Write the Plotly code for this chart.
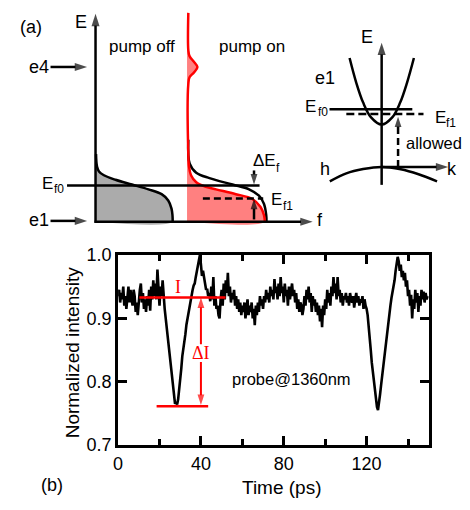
import numpy as np
import plotly.graph_objects as go

# ---------------- data: panel (b) ----------------
time_step_ps = 0.5
intensity = [
    0.935, 0.945, 0.925, 0.94, 0.93, 0.95, 0.92, 0.935, 0.915, 0.94,
    0.95, 0.925, 0.945, 0.93, 0.92, 0.945, 0.935, 0.91, 0.925, 0.905,
    0.93, 0.945, 0.955, 0.925, 0.94, 0.915, 0.93, 0.91, 0.935, 0.92,
    0.945, 0.912, 0.95, 0.93, 0.96, 0.935, 0.955, 0.93, 0.977, 0.94,
    0.92, 0.95, 0.935, 0.96, 0.93, 0.915, 0.90, 0.885, 0.87, 0.855,
    0.84, 0.825, 0.806, 0.79, 0.775, 0.765, 0.768, 0.764, 0.772, 0.785,
    0.806, 0.82, 0.84, 0.85, 0.86, 0.875, 0.89, 0.90, 0.912, 0.915,
    0.925, 0.935, 0.945, 0.952, 0.955, 0.965, 0.975, 0.985, 0.99, 1.0,
    0.985, 0.967, 0.975, 0.96, 0.955, 0.945, 0.947, 0.935, 0.94, 0.927,
    0.95, 0.93, 0.965, 0.92, 0.935, 0.915, 0.92, 0.905, 0.90, 0.93,
    0.945, 0.92, 0.955, 0.93, 0.96, 0.94, 0.972, 0.935, 0.95, 0.925,
    0.94, 0.93, 0.945, 0.92, 0.935, 0.915, 0.93, 0.91, 0.925, 0.905,
    0.92, 0.91, 0.925, 0.90, 0.915, 0.93, 0.905, 0.92, 0.91, 0.925,
    0.90, 0.915, 0.889, 0.92, 0.905, 0.925, 0.91, 0.935, 0.92, 0.93,
    0.915, 0.935, 0.925, 0.945, 0.93, 0.94, 0.925, 0.95, 0.935, 0.945,
    0.93, 0.962, 0.94, 0.95, 0.93, 0.955, 0.935, 0.965, 0.94, 0.95,
    0.925, 0.955, 0.935, 0.945, 0.92, 0.95, 0.93, 0.94, 0.955, 0.935,
    0.945, 0.925, 0.94, 0.915, 0.93, 0.91, 0.925, 0.92, 0.905, 0.915,
    0.935, 0.92, 0.945, 0.93, 0.95, 0.925, 0.94, 0.91, 0.935, 0.92,
    0.93, 0.91, 0.925, 0.905, 0.92, 0.895, 0.915, 0.886, 0.92, 0.905,
    0.93, 0.915, 0.945, 0.925, 0.94, 0.92, 0.95, 0.935, 0.965, 0.94,
    0.955, 0.93, 0.965, 0.935, 0.945, 0.925, 0.94, 0.92, 0.935, 0.93,
    0.94, 0.925, 0.935, 0.92, 0.94, 0.93, 0.925, 0.935, 0.917, 0.93,
    0.94, 0.925, 0.935, 0.92, 0.93, 0.925, 0.935, 0.915, 0.93, 0.92,
    0.915, 0.905, 0.89, 0.87, 0.85, 0.83, 0.815, 0.80, 0.785, 0.77,
    0.76, 0.755, 0.765, 0.78, 0.795, 0.81, 0.825, 0.84, 0.85, 0.86,
    0.875, 0.89, 0.905, 0.92, 0.932, 0.94, 0.95, 0.96, 0.975, 0.985,
    0.997, 0.99, 0.975, 0.985, 0.965, 0.975, 0.96, 0.972, 0.95, 0.96,
    0.935, 0.945, 0.92, 0.937, 0.90, 0.93, 0.915, 0.945, 0.925, 0.94,
    0.91, 0.935, 0.92, 0.945, 0.93, 0.942, 0.925, 0.94, 0.93, 0.935,
]
time_ps = np.arange(len(intensity)) * time_step_ps

x_ticks = [0, 40, 80, 120]
x_minor_ticks = [20, 60, 100, 140]
y_ticks = [0.7, 0.8, 0.9, 1.0]

# red markers in panel (b)
i_level = 0.933
i_line_x = [10.3, 51.9]
min_level = 0.761
min_line_x = [18.6, 43.5]
delta_x = 40

# ---------------- schematic panel (a) (drawing units = px) ----------------
off_x = [92, 93, 95, 100, 111.7, 128.3, 145, 158.3, 165, 168.3, 169.3, 169.5]
off_y = [150, 163, 168, 172, 176.7, 181.7, 186.7, 191.7, 198.3, 206.7, 214, 220.5]

on_red_x = [185.3, 185.3, 186.5, 191, 194.5, 191, 186.5, 185.3, 185.3, 186, 188,
            193.3, 203, 213.3, 233.3, 250, 258.3, 261.7, 262.7]
on_red_y = [3, 42, 48, 54, 59.3, 65, 70, 77, 150, 163, 172,
            179.3, 184, 186.7, 191.7, 196.7, 205, 213.3, 220.5]

on_blk_x = [185.3, 186.7, 193.3, 206.7, 230, 246.7, 256.7, 261.7, 264, 264.3]
on_blk_y = [135, 160, 169.3, 175, 181.7, 186.7, 193.3, 201.7, 213.3, 220.5]

band_e1_x = [348.3, 355, 362, 370, 380.7, 391.4, 399.4, 406.4, 413.3]
band_e1_y = [50, 75.5, 96.4, 111.8, 119.3, 111.8, 96.4, 75.5, 50]
band_h_x = [328.3, 345, 362, 380.7, 400, 418, 436.7]
band_h_y = [178.3, 170, 165.5, 163.3, 165.8, 171, 178.3]

BLK = "black"
RED = "#ff0000"
SANS = "Liberation Sans, Arial, sans-serif"
SERIF = "Liberation Serif, Times New Roman, serif"

fig = go.Figure()

# --- panel (b) trace
fig.add_trace(go.Scatter(x=time_ps, y=intensity, mode="lines",
                         line=dict(color=BLK, width=2.6), xaxis="x", yaxis="y",
                         showlegend=False, hoverinfo="skip"))
fig.add_trace(go.Scatter(x=i_line_x, y=[i_level, i_level], mode="lines",
                         line=dict(color=RED, width=2.5), showlegend=False))
fig.add_trace(go.Scatter(x=min_line_x, y=[min_level, min_level], mode="lines",
                         line=dict(color=RED, width=2.5), showlegend=False))

# --- panel (a) schematic on overlay axes x2/y2
def s(x, y, ax=("x2", "y2"), **kw):
    fig.add_trace(go.Scatter(x=x, y=y, xaxis=ax[0], yaxis=ax[1], showlegend=False,
                             hoverinfo="skip", **kw))

# gray fill (pump off)
s([off_x[0]] + off_x + [off_x[0]], [off_y[0]] + off_y + [220.5], mode="lines",
  fill="toself", fillcolor="#ababab", line=dict(width=0, shape="spline"))
# red fill (pump on)
s([184] + on_red_x + [184], [3] + on_red_y + [220.5], mode="lines",
  fill="toself", fillcolor="#ff8080", line=dict(width=0, shape="spline"))
# black curve under pump on
s(on_blk_x, on_blk_y, mode="lines", line=dict(color=BLK, width=2.5, shape="spline"))
# red curve
s(on_red_x, on_red_y, mode="lines", line=dict(color=RED, width=2.5, shape="spline"))
# pump off curve
s(off_x, off_y, mode="lines", line=dict(color=BLK, width=2.5, shape="spline"))
# Ef0 line (left)
s([62.7, 257.3], [182.7, 182.7], mode="lines", line=dict(color=BLK, width=2.5))
# Ef1 dashed (left)
s([200, 261], [196.2, 196.2], mode="lines", line=dict(color=BLK, width=2.5, dash="7px,4px"))

# right band diagram
s(band_e1_x, band_e1_y, mode="lines", line=dict(color=BLK, width=2.5, shape="spline"))
s(band_h_x, band_h_y, mode="lines", line=dict(color=BLK, width=2.5, shape="spline"))
s([328, 411.7], [103.3, 103.3], mode="lines", line=dict(color=BLK, width=2.5))
s([345, 423], [108.3, 108.3], mode="lines", line=dict(color=BLK, width=2.5, dash="8px,4px"))
s([397.3, 397.3], [163.3, 120], mode="lines", line=dict(color=BLK, width=2.5, dash="7px,4px"))


def arrow(x0, y0, x1, y1, color=BLK, width=2.5, size=13, ax=("x2", "y2")):
    s([x0, x1], [y0, y1], ax=ax, mode="lines+markers",
      line=dict(color=color, width=width),
      marker=dict(symbol="arrow", size=[0, size], angleref="previous", color=color,
                  line=dict(width=0)))


annotations = []

def label(x, y, text, size=18, xanchor="center", yanchor="middle", color=BLK,
          family=SANS, ref=("x2", "y2"), angle=0):
    annotations.append(dict(x=x, y=y, xref=ref[0], yref=ref[1], text=text,
                            showarrow=False, xanchor=xanchor, yanchor=yanchor,
                            textangle=angle,
                            font=dict(size=size, color=color, family=family)))

# left axes
arrow(91.5, 221.5, 91.5, 4)
arrow(90.5, 220.5, 311, 220.5)
arrow(46, 59.3, 83, 59.3)
arrow(46, 219.5, 83, 219.5)
arrow(251.7, 167, 251.7, 181.5, size=11)
arrow(251.7, 218, 251.7, 196.5, size=11)
# right axes
arrow(380.7, 182, 380.7, 34)
arrow(380.7, 163.3, 448, 163.3)
arrow(397.3, 122, 397.3, 111, size=11)

label(26, 18, "(a)")
label(77, 13, "E")
label(138, 38, "pump off", size=17)
label(250, 38, "pump on", size=17)
label(34, 59, "e4")
label(34, 219, "e1")
# E_f0 (left): base letter + subscript as separate texts
label(50.5, 181, "E", size=17, xanchor="right")
label(62, 186.5, "f0", size=12, xanchor="right")
# ΔE_f
label(249, 156.5, "ΔE", size=17, xanchor="left")
label(271.5, 164, "f", size=12, xanchor="left")
# E_f1 (left)
label(266.5, 197.5, "E", size=17, xanchor="left")
label(279, 204, "f1", size=12, xanchor="left")
label(318, 219, "f")
label(366, 28, "E")
label(323, 71, "e1")
# E_f0 (right)
label(316.5, 100.5, "E", size=17, xanchor="right")
label(328.5, 106, "f0", size=12, xanchor="right")
# E_f1 (right)
label(432.5, 111.5, "E", size=17, xanchor="left")
label(443.5, 118, "f1", size=12, xanchor="left")
label(433.5, 138, "allowed", size=16.5)
label(323, 165, "h")
label(452, 165, "k")

# panel (b) labels
label(48, 494, "(b)")
label(280, 497, "Time (ps)", size=19)
label(68, 356, "Normalized intensity", size=19, angle=-90)
label(29, 0.9495, "I", size=18, color=RED, family=SERIF, ref=("x", "y"))
label(40, 0.846, "ΔI", size=18, color=RED, family=SERIF, ref=("x", "y"))
label(83.8, 0.8045, "probe@1360nm", size=16.5, ref=("x", "y"))
arrow(delta_x, 0.859, delta_x, i_level, color=RED, width=2, size=11, ax=("x", "y"))
arrow(delta_x, 0.831, delta_x, min_level + 0.002, color=RED, width=2, size=11, ax=("x", "y"))

W, H = 470, 510
fig.update_layout(
    width=W, height=H, margin=dict(l=0, r=0, t=0, b=0),
    paper_bgcolor="white", plot_bgcolor="rgba(0,0,0,0)",
    showlegend=False, annotations=annotations,
    font=dict(family=SANS, size=18, color=BLK),
    xaxis=dict(domain=[114.3 / W, 428.3 / W], range=[0, 150], anchor="y",
               tickvals=x_ticks, ticks="inside", ticklen=9, tickwidth=2.5,
               tickcolor=BLK, showline=True, linewidth=3, linecolor=BLK,
               mirror="ticks", showgrid=False, zeroline=False,
               tickfont=dict(size=18, family=SANS, color=BLK),
               minor=dict(tickvals=x_minor_ticks, ticks="inside", ticklen=6,
                          tickwidth=2.5, tickcolor=BLK, showgrid=False)),
    yaxis=dict(domain=[(H - 452.7) / H, (H - 255) / H], range=[0.7, 1.0], anchor="x",
               tickvals=y_ticks, tickformat=".1f", ticks="inside", ticklen=9,
               tickwidth=2.5, tickcolor=BLK, showline=True, linewidth=3,
               linecolor=BLK, mirror="ticks", showgrid=False, zeroline=False,
               tickfont=dict(size=18, family=SANS, color=BLK)),
    xaxis2=dict(domain=[0, 1], range=[0, W], visible=False, anchor="y2",
                showgrid=False, zeroline=False),
    yaxis2=dict(domain=[0, 1], range=[H, 0], visible=False, anchor="x2",
                showgrid=False, zeroline=False),
)

fig.write_html("out.html", config={"displayModeBar": False},
               post_script="document.body.style.margin='0';document.body.style.overflow='hidden';")
